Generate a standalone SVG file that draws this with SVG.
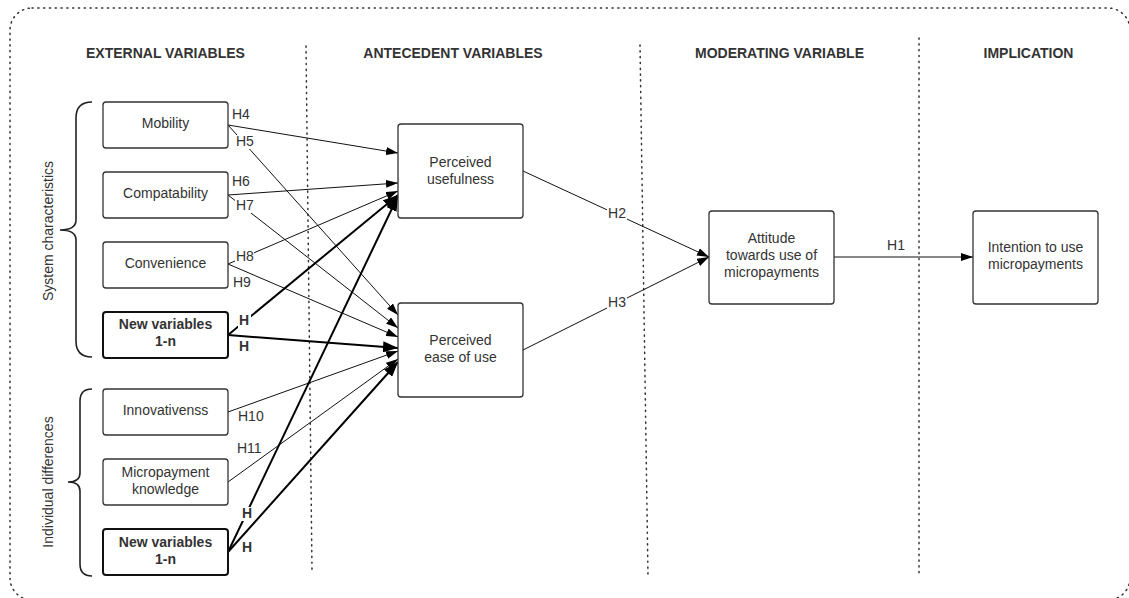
<svg xmlns="http://www.w3.org/2000/svg" width="1129" height="598" viewBox="0 0 1129 598">
  <style>
    text { font-family: "Liberation Sans", Arial, sans-serif; fill: #333; }
    .hdr { font-size: 14px; font-weight: bold; text-anchor: middle; }
    .node rect { fill: #fff; stroke: #333; stroke-width: 1.3; }
    .node.strong rect { stroke: #111; stroke-width: 2; }
    .node text { font-size: 14px; text-anchor: middle; }
    .node.strong text { font-weight: bold; }
    .dots { fill: none; stroke: #333; stroke-width: 1.5; stroke-dasharray: 1.2 4.6; stroke-linecap: round; }
    .brace { fill: none; stroke: #222; stroke-width: 1.6; }
    .group-label { font-size: 14px; text-anchor: middle; }
    .thin { stroke: #111; stroke-width: 1; fill: none; marker-end: url(#ah); }
    .bold { stroke: #000; stroke-width: 2; fill: none; marker-end: url(#ahb); }
    .lbl { font-size: 14px; }
    .lbl.b { font-weight: bold; }
    .bg { fill: #fff; }
  </style>
  <defs>
    <marker id="ah" viewBox="0 0 12 8" refX="12" refY="4" markerWidth="12" markerHeight="8" orient="auto" markerUnits="userSpaceOnUse">
      <path d="M0,0 L12,4 L0,8 z" fill="#000"/>
    </marker>
    <marker id="ahb" viewBox="0 0 15 11" refX="15" refY="5.5" markerWidth="15" markerHeight="11" orient="auto" markerUnits="userSpaceOnUse">
      <path d="M0,0 L15,5.5 L0,11 z" fill="#000"/>
    </marker>
  </defs>

  <rect width="1129" height="598" fill="#fff"/>

  <!-- outer frame and column dividers -->
  <rect class="dots" x="10" y="8" width="1120" height="592" rx="22"/>
  <line class="dots" x1="306" y1="46" x2="312" y2="570"/>
  <line class="dots" x1="640" y1="45" x2="648" y2="576"/>
  <line class="dots" x1="919" y1="38" x2="919" y2="576"/>

  <!-- column headings -->
  <text class="hdr" x="165.5" y="58">EXTERNAL VARIABLES</text>
  <text class="hdr" x="453" y="58">ANTECEDENT VARIABLES</text>
  <text class="hdr" x="779.5" y="58">MODERATING VARIABLE</text>
  <text class="hdr" x="1028.5" y="58">IMPLICATION</text>

  <!-- grouping braces -->
  <g id="system-characteristics">
    <path class="brace" d="M92,102 Q76,102 76,118 L76,220 Q76,230 60,230 Q76,230 76,240 L76,341 Q76,357 92,357"/>
    <text class="group-label" transform="translate(52.5,231) rotate(-90)">System characteristics</text>
  </g>
  <g id="individual-differences">
    <path class="brace" d="M92,389 Q80,389 80,401 L80,473 Q80,482 68,482 Q80,482 80,491 L80,564 Q80,576 92,576"/>
    <text class="group-label" transform="translate(53,482) rotate(-90)">Individual differences</text>
  </g>

  <!-- connectors -->
  <g id="connectors">
    <line class="thin" x1="228" y1="125" x2="398" y2="153"/>
    <line class="thin" x1="228" y1="125" x2="398" y2="315"/>
    <line class="thin" x1="228" y1="195" x2="398" y2="183"/>
    <line class="thin" x1="228" y1="195" x2="398" y2="328"/>
    <line class="thin" x1="228" y1="264" x2="398" y2="191"/>
    <line class="thin" x1="228" y1="264" x2="398" y2="337"/>
    <line class="thin" x1="228" y1="412" x2="398" y2="351"/>
    <line class="thin" x1="228" y1="482" x2="398" y2="359"/>
    <line class="bold" x1="228" y1="335" x2="398" y2="195"/>
    <line class="bold" x1="228" y1="335" x2="398" y2="348"/>
    <line class="bold" x1="228" y1="552" x2="398" y2="196"/>
    <line class="bold" x1="228" y1="552" x2="398" y2="362"/>
    <line class="thin" x1="523" y1="171" x2="709" y2="257"/>
    <line class="thin" x1="523" y1="350" x2="709" y2="257"/>
    <line class="thin" x1="834" y1="257" x2="973" y2="257"/>

    <!-- hypothesis labels -->
    <text class="lbl" x="232" y="119">H4</text>
    <rect class="bg" x="235" y="135" width="19" height="14"/>
    <text class="lbl" x="236" y="146">H5</text>
    <text class="lbl" x="232" y="186">H6</text>
    <rect class="bg" x="235" y="199" width="19" height="14"/>
    <text class="lbl" x="236" y="210">H7</text>
    <rect class="bg" x="235" y="250" width="19" height="14"/>
    <text class="lbl" x="236" y="261">H8</text>
    <text class="lbl" x="233" y="287">H9</text>
    <rect class="bg" x="238" y="314" width="13" height="14"/>
    <text class="lbl b" x="239" y="325">H</text>
    <text class="lbl b" x="239" y="351">H</text>
    <text class="lbl" x="238" y="421">H10</text>
    <text class="lbl" x="237" y="453">H11</text>
    <rect class="bg" x="241" y="507" width="13" height="14"/>
    <text class="lbl b" x="242" y="518">H</text>
    <text class="lbl b" x="242" y="552">H</text>
    <rect class="bg" x="607" y="207" width="20" height="14"/>
    <text class="lbl" x="617" y="218" text-anchor="middle">H2</text>
    <rect class="bg" x="607" y="296" width="20" height="14"/>
    <text class="lbl" x="617" y="307" text-anchor="middle">H3</text>
    <text class="lbl" x="896" y="250" text-anchor="middle">H1</text>
  </g>

  <!-- external variables -->
  <g id="mobility" class="node">
    <rect x="103" y="102" width="125" height="46" rx="3"/>
    <text x="165.5" y="128">Mobility</text>
  </g>
  <g id="compatability" class="node">
    <rect x="103" y="172" width="125" height="46" rx="3"/>
    <text x="165.5" y="198">Compatability</text>
  </g>
  <g id="convenience" class="node">
    <rect x="103" y="242" width="125" height="46" rx="3"/>
    <text x="165.5" y="268">Convenience</text>
  </g>
  <g id="new-variables-system" class="node strong">
    <rect x="103" y="312" width="125" height="46" rx="3"/>
    <text x="165.5" y="329">New variables</text>
    <text x="165.5" y="346">1-n</text>
  </g>
  <g id="innovativeness" class="node">
    <rect x="103" y="389" width="125" height="46" rx="3"/>
    <text x="165.5" y="415">Innovativenss</text>
  </g>
  <g id="micropayment-knowledge" class="node">
    <rect x="103" y="459" width="125" height="46" rx="3"/>
    <text x="165.5" y="477">Micropayment</text>
    <text x="165.5" y="494">knowledge</text>
  </g>
  <g id="new-variables-individual" class="node strong">
    <rect x="103" y="529" width="125" height="46" rx="3"/>
    <text x="165.5" y="547">New variables</text>
    <text x="165.5" y="564">1-n</text>
  </g>

  <!-- antecedent variables -->
  <g id="perceived-usefulness" class="node">
    <rect x="398" y="124" width="125" height="94" rx="3"/>
    <text x="460.5" y="167">Perceived</text>
    <text x="460.5" y="184">usefulness</text>
  </g>
  <g id="perceived-ease-of-use" class="node">
    <rect x="398" y="303" width="125" height="94" rx="3"/>
    <text x="460.5" y="345">Perceived</text>
    <text x="460.5" y="362">ease of use</text>
  </g>

  <!-- moderating variable -->
  <g id="attitude" class="node">
    <rect x="709" y="211" width="125" height="93" rx="3"/>
    <text x="771.5" y="243">Attitude</text>
    <text x="771.5" y="260">towards use of</text>
    <text x="771.5" y="277">micropayments</text>
  </g>

  <!-- implication -->
  <g id="intention" class="node">
    <rect x="973" y="211" width="125" height="93" rx="3"/>
    <text x="1035.5" y="252">Intention to use</text>
    <text x="1035.5" y="269">micropayments</text>
  </g>
</svg>
